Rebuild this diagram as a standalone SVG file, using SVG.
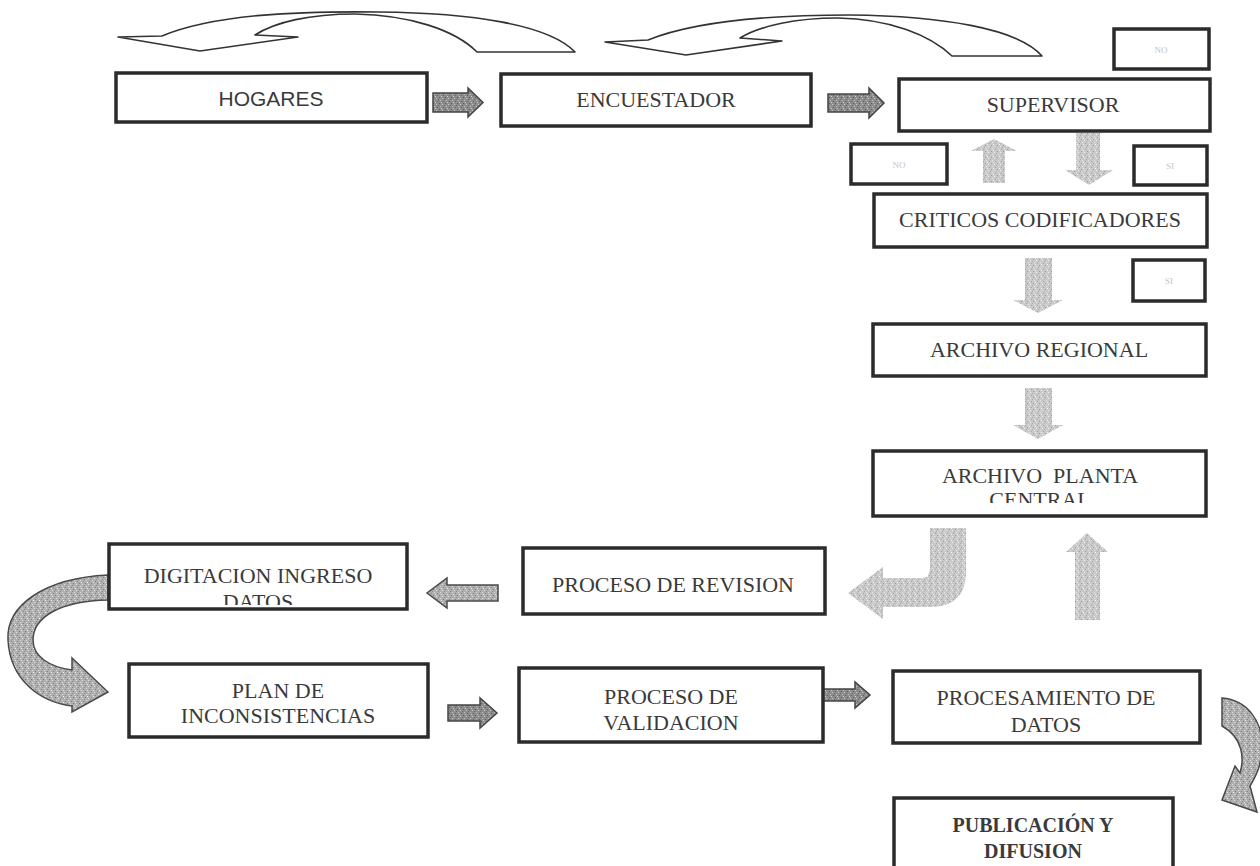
<svg xmlns="http://www.w3.org/2000/svg" width="1260" height="866" viewBox="0 0 1260 866">
<defs>
<style>
.box{fill:#fff;stroke:#2b2b2b;stroke-width:3.5}
.sbox{fill:#fff;stroke:#2b2b2b;stroke-width:3.5}
.t{font-family:"Liberation Serif","Times New Roman",serif;font-size:22px;fill:#3a3a3a;text-anchor:middle}
.ts{font-family:"Liberation Sans",Arial,sans-serif;font-size:21px;fill:#3a3a3a;text-anchor:middle}
.tb{font-family:"Liberation Serif","Times New Roman",serif;font-size:20px;font-weight:bold;fill:#3a3a3a;text-anchor:middle}
.tiny{font-family:"Liberation Serif",serif;font-size:9px;fill:#c4c4c4;text-anchor:middle}
.dark{fill:url(#stipD);stroke:#444;stroke-width:1.5}
.mid{fill:url(#stipM);stroke:#4a4a4a;stroke-width:1.5}
.light{fill:url(#stipL);stroke:none}
.outline{fill:#fff;stroke:#333;stroke-width:1.6;stroke-linejoin:round}
</style>
<pattern id="stipD" width="6" height="6" patternUnits="userSpaceOnUse">
<rect width="6" height="6" fill="#8c8c8c"/>
<rect x="1" y="1" width="1" height="1" fill="#5a5a5a"/><rect x="4" y="2" width="1" height="1" fill="#c8c8c8"/>
<rect x="2" y="4" width="1" height="1" fill="#bdbdbd"/><rect x="5" y="5" width="1" height="1" fill="#606060"/>
<rect x="3" y="0" width="1" height="1" fill="#d0d0d0"/><rect x="0" y="3" width="1" height="1" fill="#6a6a6a"/>
</pattern>
<pattern id="stipM" width="6" height="6" patternUnits="userSpaceOnUse">
<rect width="6" height="6" fill="#b0b0b0"/>
<rect x="1" y="1" width="1" height="1" fill="#7a7a7a"/><rect x="4" y="2" width="1" height="1" fill="#e0e0e0"/>
<rect x="2" y="4" width="1" height="1" fill="#dadada"/><rect x="5" y="5" width="1" height="1" fill="#808080"/>
<rect x="3" y="0" width="1" height="1" fill="#eeeeee"/><rect x="0" y="3" width="1" height="1" fill="#8a8a8a"/>
</pattern>
<pattern id="stipL" width="6" height="6" patternUnits="userSpaceOnUse">
<rect width="6" height="6" fill="#c9c9c9"/>
<rect x="1" y="1" width="1" height="1" fill="#9a9a9a"/><rect x="4" y="2" width="1" height="1" fill="#eeeeee"/>
<rect x="2" y="4" width="1" height="1" fill="#e6e6e6"/><rect x="5" y="5" width="1" height="1" fill="#a4a4a4"/>
<rect x="3" y="0" width="1" height="1" fill="#f4f4f4"/><rect x="0" y="3" width="1" height="1" fill="#ababab"/>
</pattern>
<clipPath id="clipPC"><rect x="874" y="452" width="330" height="51"/></clipPath>
<clipPath id="clipDG"><rect x="110" y="545" width="295" height="60"/></clipPath>
</defs>
<rect width="1260" height="866" fill="#fff"/>

<g id="connectors">
<path class="outline" d="M118,37 L162,36 C215,14 300,11 379,12 C470,13 548,24 575,52 L477,52 C455,30 410,15 355,14 C310,14 275,22 255,35 L298,37 L200,51 Z"/>
<path class="outline" d="M605,42 L648,40 C700,19 780,15 850,15 C940,16 1018,28 1042,56 L952,56 C930,35 890,19 838,18 C795,18 760,26 740,38 L782,41 L686,55 Z"/>
<path class="dark" d="M433,93 L468,93 L468,88 L483,102.5 L468,117 L468,112 L433,112 Z"/>
<path class="dark" d="M828,94 L869,94 L869,88 L884,103 L869,118 L869,112 L828,112 Z"/>
<path class="dark" d="M448,705 L480,705 L480,698 L497,713 L480,728 L480,721 L448,721 Z"/>
<path class="dark" d="M822,689 L855,689 L855,682 L870,695 L855,708 L855,701 L822,701 Z"/>
<path class="mid" d="M498,585 L447,585 L447,578 L427,593 L447,608 L447,601 L498,601 Z"/>
<path class="light" d="M983,183 L1005,183 L1005,151 L1017,151 L994,139 L971,151 L983,151 Z"/>
<path class="light" d="M1076,133 L1100,133 L1100,170 L1113,170 L1089,185 L1065,170 L1076,170 Z"/>
<path class="light" d="M1025,258 L1052,258 L1052,300 L1063,300 L1038,313 L1013,300 L1025,300 Z"/>
<path class="light" d="M1025,388 L1052,388 L1052,425 L1063,425 L1038,439 L1013,425 L1025,425 Z"/>
<path class="light" d="M1075,620 L1100,620 L1100,552 L1108,552 L1087,533 L1066,552 L1075,552 Z"/>
<path class="light" d="M930,528 L966,528 L966,572 Q966,607 930,607 L883,607 L883,619 L848,593 L883,567 L883,578 L922,578 Q930,578 930,568 Z"/>
<path class="mid" d="M108,575 C45,578 6,605 8,640 C10,680 40,702 72,706 L72,712 L108,692 L72,658 L72,670 C50,667 33,657 33,640 C33,617 60,601 108,600 Z"/>
<path class="mid" d="M1222,698 C1248,700 1262,722 1262,745 C1262,765 1256,776 1250,786 L1257,812 L1222,800 L1235,766 L1240,773 C1244,760 1244,738 1222,726 Z"/>
</g>

<g id="n-hogares"><rect class="box" x="116" y="73" width="311" height="49"/><text class="ts" x="271" y="106">HOGARES</text></g>
<g id="n-encuestador"><rect class="box" x="501" y="74" width="310" height="52"/><text class="t" x="656" y="107">ENCUESTADOR</text></g>
<g id="n-supervisor"><rect class="box" x="899" y="79" width="311" height="52"/><text class="t" x="1053" y="112">SUPERVISOR</text></g>
<g id="n-no1"><rect class="sbox" x="1114" y="29" width="95" height="40"/><text class="tiny" x="1161" y="53">NO</text></g>
<g id="n-no2"><rect class="sbox" x="851" y="144" width="96" height="40"/><text class="tiny" x="899" y="168">NO</text></g>
<g id="n-si1"><rect class="sbox" x="1134" y="146" width="73" height="39"/><text class="tiny" x="1170" y="169">SI</text></g>
<g id="n-criticos"><rect class="box" x="874" y="194" width="333" height="53"/><text class="t" x="1040" y="227">CRITICOS CODIFICADORES</text></g>
<g id="n-si2"><rect class="sbox" x="1133" y="260" width="72" height="41"/><text class="tiny" x="1169" y="284">SI</text></g>
<g id="n-regional"><rect class="box" x="873" y="324" width="333" height="52"/><text class="t" x="1039" y="357">ARCHIVO REGIONAL</text></g>
<g id="n-central"><rect class="box" x="873" y="451" width="333" height="65"/><g clip-path="url(#clipPC)"><text class="t" x="1040" y="483" xml:space="preserve">ARCHIVO  PLANTA</text><text class="t" x="1040" y="507">CENTRAL</text></g></g>
<g id="n-digitacion"><rect class="box" x="109" y="544" width="298" height="65"/><g clip-path="url(#clipDG)"><text class="t" x="258" y="583">DIGITACION INGRESO</text><text class="t" x="258" y="609">DATOS</text></g></g>
<g id="n-revision"><rect class="box" x="523" y="548" width="302" height="66"/><text class="t" x="673" y="592">PROCESO DE REVISION</text></g>
<g id="n-plan"><rect class="box" x="129" y="664" width="299" height="73"/><text class="t" x="278" y="698">PLAN DE</text><text class="t" x="278" y="723">INCONSISTENCIAS</text></g>
<g id="n-validacion"><rect class="box" x="519" y="668" width="304" height="74"/><text class="t" x="671" y="704">PROCESO DE</text><text class="t" x="671" y="730">VALIDACION</text></g>
<g id="n-procesamiento"><rect class="box" x="893" y="671" width="307" height="72"/><text class="t" x="1046" y="705">PROCESAMIENTO DE</text><text class="t" x="1046" y="732">DATOS</text></g>
<g id="n-publicacion"><rect class="box" x="894" y="798" width="279" height="90"/><text class="tb" x="1033" y="832">PUBLICACIÓN Y</text><text class="tb" x="1033" y="858">DIFUSION</text></g>
</svg>
